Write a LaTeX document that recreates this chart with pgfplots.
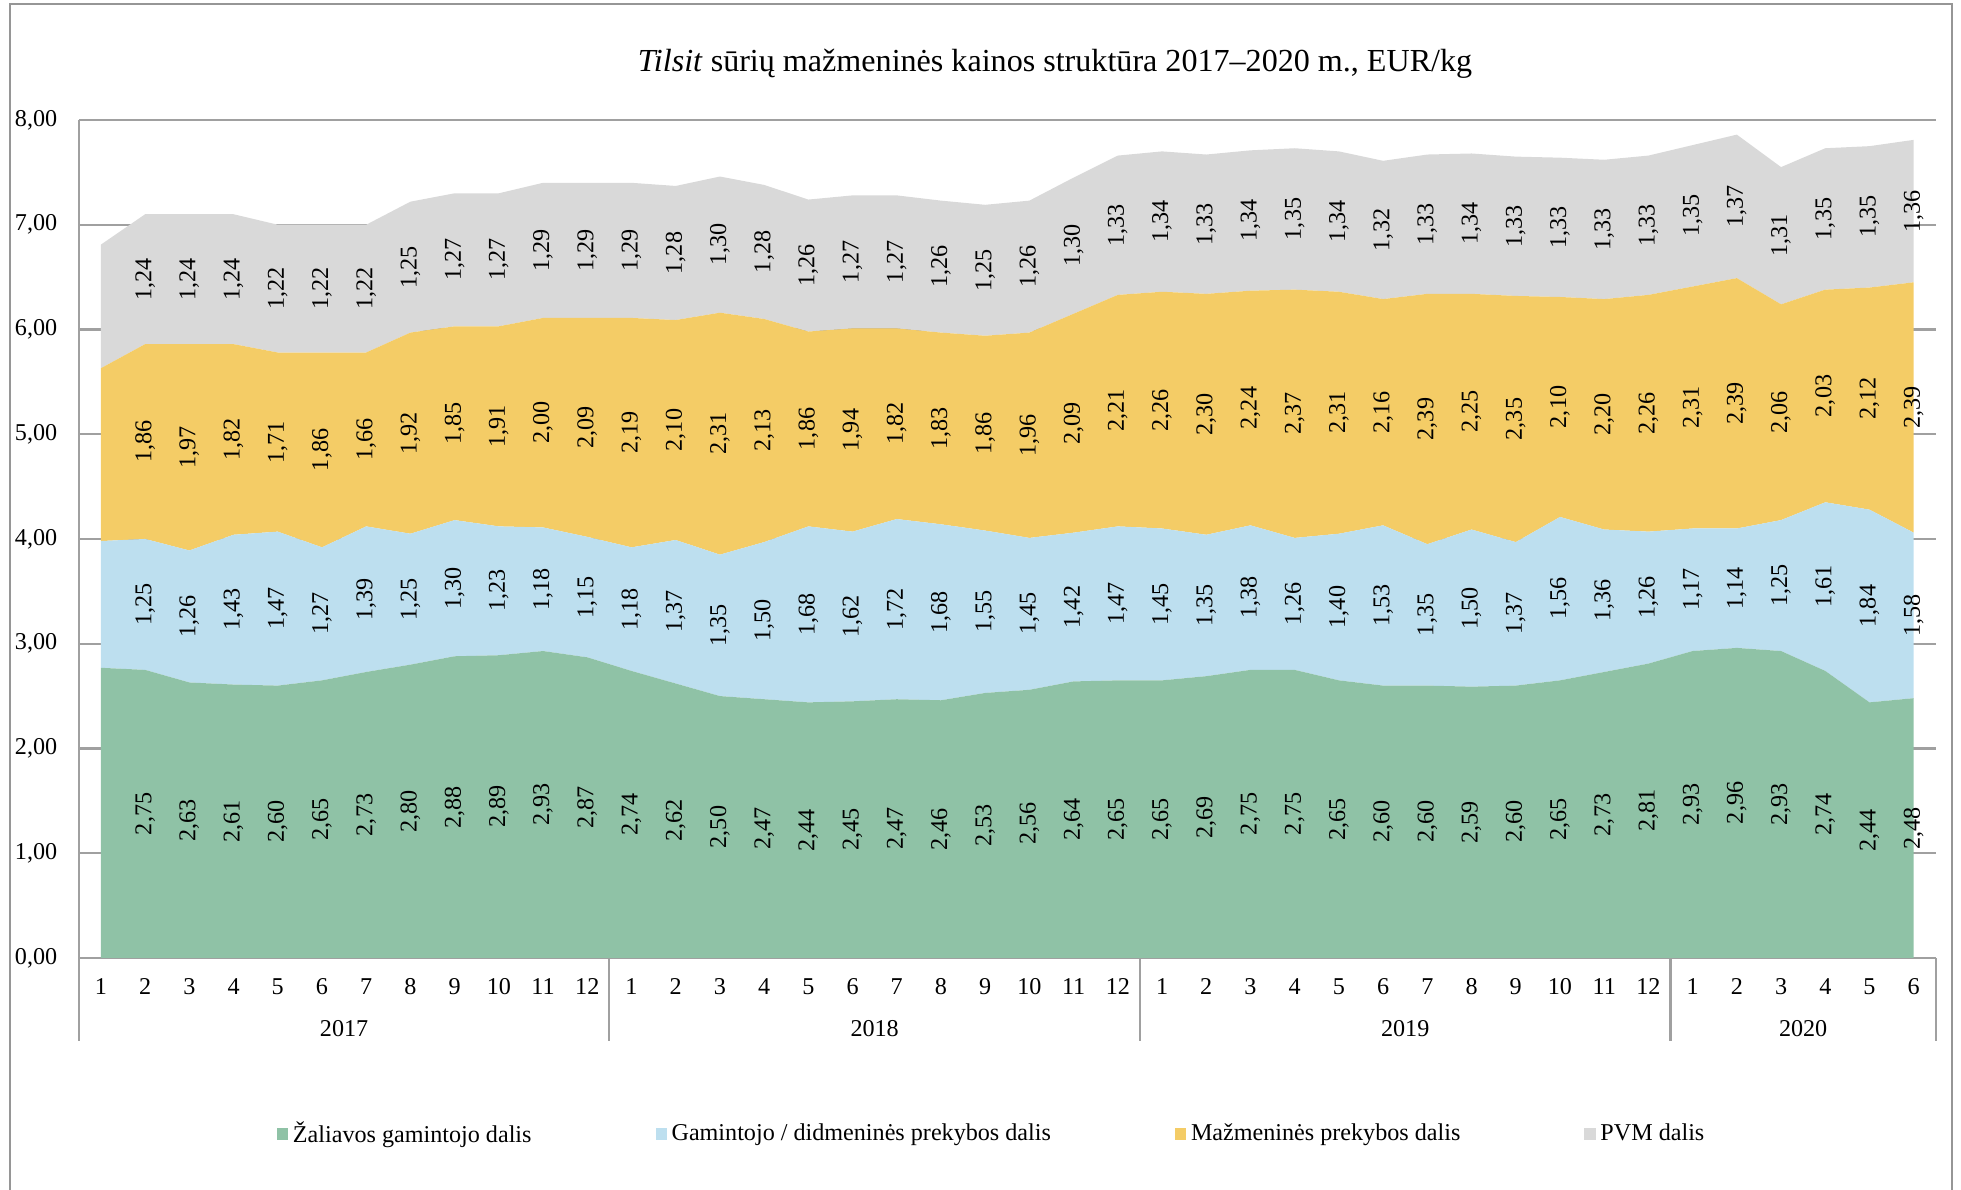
\documentclass[border=0pt]{standalone}
\usepackage{pgfplots}
\usepackage{pgfplotstable}
\pgfplotsset{compat=1.18}
\usepackage{fontspec}
\setmainfont{Liberation Serif}
\definecolor{cg}{RGB}{143,194,166}
\definecolor{cb}{RGB}{189,223,239}
\definecolor{co}{RGB}{244,204,102}
\definecolor{cp}{RGB}{217,217,217}
\definecolor{gridc}{RGB}{160,160,160}
\definecolor{framec}{RGB}{150,150,150}
\pgfplotstableread{
x g b o p
1 2.77 1.21 1.65 1.18
2 2.75 1.25 1.86 1.24
3 2.63 1.26 1.97 1.24
4 2.61 1.43 1.82 1.24
5 2.60 1.47 1.71 1.22
6 2.65 1.27 1.86 1.22
7 2.73 1.39 1.66 1.22
8 2.80 1.25 1.92 1.25
9 2.88 1.30 1.85 1.27
10 2.89 1.23 1.91 1.27
11 2.93 1.18 2.00 1.29
12 2.87 1.15 2.09 1.29
13 2.74 1.18 2.19 1.29
14 2.62 1.37 2.10 1.28
15 2.50 1.35 2.31 1.30
16 2.47 1.50 2.13 1.28
17 2.44 1.68 1.86 1.26
18 2.45 1.62 1.94 1.27
19 2.47 1.72 1.82 1.27
20 2.46 1.68 1.83 1.26
21 2.53 1.55 1.86 1.25
22 2.56 1.45 1.96 1.26
23 2.64 1.42 2.09 1.30
24 2.65 1.47 2.21 1.33
25 2.65 1.45 2.26 1.34
26 2.69 1.35 2.30 1.33
27 2.75 1.38 2.24 1.34
28 2.75 1.26 2.37 1.35
29 2.65 1.40 2.31 1.34
30 2.60 1.53 2.16 1.32
31 2.60 1.35 2.39 1.33
32 2.59 1.50 2.25 1.34
33 2.60 1.37 2.35 1.33
34 2.65 1.56 2.10 1.33
35 2.73 1.36 2.20 1.33
36 2.81 1.26 2.26 1.33
37 2.93 1.17 2.31 1.35
38 2.96 1.14 2.39 1.37
39 2.93 1.25 2.06 1.31
40 2.74 1.61 2.03 1.35
41 2.44 1.84 2.12 1.35
42 2.48 1.58 2.39 1.36
}\data
\newcommand{\lblfont}{\fontsize{10.3}{12}\selectfont}
\pgfplotsset{
  lbl/.style={
    visualization depends on=rawx\as\rawx,
    visualization depends on=rawy\as\rawy,
    nodes near coords={\ifdim\rawx pt>1.5pt\pgfmathprintnumber[fixed,fixed zerofill,precision=2,use comma,assume math mode=true]{\rawy}\fi},
    every node near coord/.append style={font=\lblfont, text=black, anchor=center, yshift=-0.78562cm*\rawy, rotate=90, inner sep=0pt},
  }
}
\begin{document}
\begin{tikzpicture}
\draw[framec, line width=0.9pt] (0.15,-0.06) rectangle (29.28,-18.6);
\node[font=\fontsize{13.7}{15}\selectfont] at (15.825,-0.96) {\textit{Tilsit} sūrių mažmeninės kainos struktūra 2017–2020 m., EUR/kg};
\begin{axis}[
  at={(1.182cm,-14.369cm)}, anchor=south west,
  scale only axis, width=27.855cm, height=12.57cm,
  xmin=0.5, xmax=42.5, ymin=0, ymax=8,
  stack plots=y,
  clip=false,
  axis x line*=bottom, axis y line*=left,
  axis line style={-, draw=gridc, line width=0.9pt},
  ymajorgrids, grid style={draw=gridc, line width=0.9pt},
  major tick length=0pt,
  ytick={0,1,...,8},
  yticklabel={\pgfmathprintnumber[fixed,fixed zerofill,precision=2,use comma,assume math mode=true]{\tick}},
  xtick={1,...,42},
  xticklabels={1,2,3,4,5,6,7,8,9,10,11,12,1,2,3,4,5,6,7,8,9,10,11,12,1,2,3,4,5,6,7,8,9,10,11,12,1,2,3,4,5,6},
  ticklabel style={font=\lblfont},
  xticklabel style={yshift=-0.19cm},
  yticklabel style={xshift=-0.2cm},
  legend style={at={(0.4923,-0.210)}, anchor=center, draw=none, fill=none, legend columns=4,
    font=\lblfont, /tikz/every even column/.append style={column sep=1.79cm}},
  legend cell align=left,
  legend image code/.code={\fill[#1] (0cm,-0.085cm) rectangle (0.17cm,0.085cm);},
]
\addplot[fill=cg, draw=none, lbl] table[x=x,y=g]{\data} \closedcycle;
\addlegendentry{Žaliavos gamintojo dalis}
\addplot[fill=cb, draw=none, lbl] table[x=x,y=b]{\data} \closedcycle;
\addlegendentry{Gamintojo / didmeninės prekybos dalis}
\addplot[fill=co, draw=none, lbl] table[x=x,y=o]{\data} \closedcycle;
\addlegendentry{Mažmeninės prekybos dalis}
\addplot[fill=cp, draw=none, lbl] table[x=x,y=p]{\data} \closedcycle;
\addlegendentry{PVM dalis}
\draw[gridc, line width=0.9pt] (axis cs:0.5,0) -- ([yshift=-1.245cm]axis cs:0.5,0);
\draw[gridc, line width=0.9pt] (axis cs:12.5,0) -- ([yshift=-1.245cm]axis cs:12.5,0);
\draw[gridc, line width=0.9pt] (axis cs:24.5,0) -- ([yshift=-1.245cm]axis cs:24.5,0);
\draw[gridc, line width=0.9pt] (axis cs:36.5,0) -- ([yshift=-1.245cm]axis cs:36.5,0);
\draw[gridc, line width=0.9pt] (axis cs:42.5,0) -- ([yshift=-1.245cm]axis cs:42.5,0);
\node[font=\lblfont] at (axis cs:6.5,0) [yshift=-1.065cm] {2017};
\node[font=\lblfont] at (axis cs:18.5,0) [yshift=-1.065cm] {2018};
\node[font=\lblfont] at (axis cs:30.5,0) [yshift=-1.065cm] {2019};
\node[font=\lblfont] at (axis cs:39.5,0) [yshift=-1.065cm] {2020};
\end{axis}
\pgfresetboundingbox
\useasboundingbox (0,0) rectangle (29.415,-17.835);
\end{tikzpicture}
\end{document}
